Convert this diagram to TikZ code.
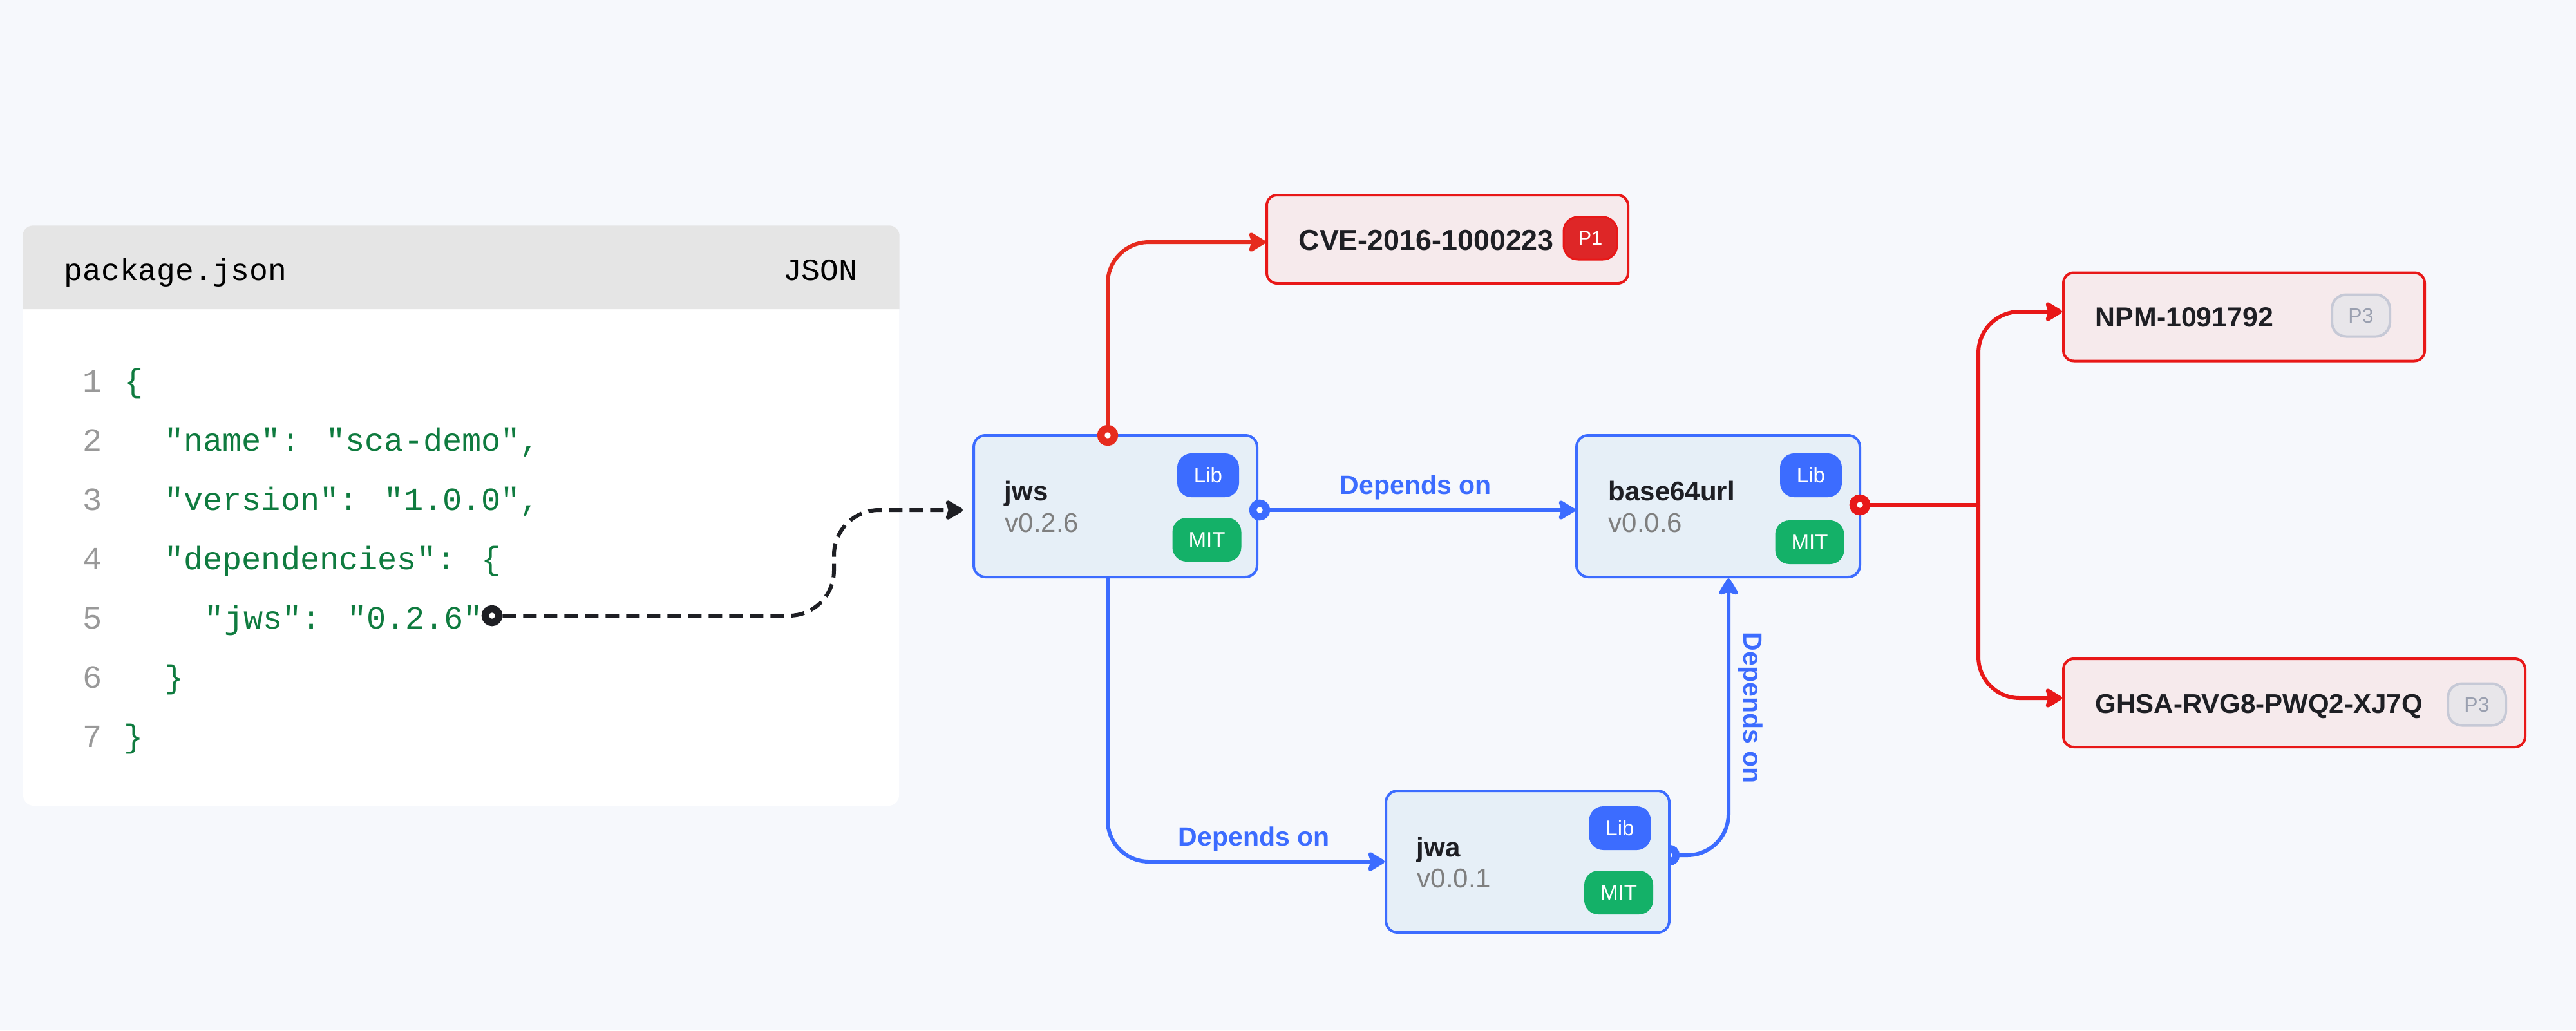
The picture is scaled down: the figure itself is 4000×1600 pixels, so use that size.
\documentclass[tikz,border=0pt]{standalone}
\usepackage{fontspec}
\setmainfont{Liberation Sans}
\newfontfamily\codefont{Liberation Mono}
\usetikzlibrary{arrows.meta}
\definecolor{pagebg}{HTML}{F6F8FC}
\definecolor{headbg}{HTML}{E5E5E5}
\definecolor{codegreen}{HTML}{0F7B3F}
\definecolor{numgray}{HTML}{999999}
\definecolor{inkdark}{HTML}{1E1F24}
\definecolor{vergray}{HTML}{7F7F7F}
\definecolor{depblue}{HTML}{3C6CFF}
\definecolor{pkgfill}{HTML}{E6EFF7}
\definecolor{vulnred}{HTML}{E81818}
\definecolor{toppred}{HTML}{E62B1E}
\definecolor{vulnfill}{HTML}{F6EAEC}
\definecolor{mitgreen}{HTML}{14B168}
\definecolor{pone}{HTML}{DE2627}
\definecolor{pthreefill}{HTML}{E8E6EA}
\definecolor{pthreeline}{HTML}{C6C9D6}
\definecolor{pthreetext}{HTML}{9AA0B0}
\tikzset{
	pkgbox/.style = {draw=depblue, fill=pkgfill, line width=.4mm, rounded corners=1.8mm, minimum width=44mm, minimum height=22mm, inner sep=0pt},
	vulnbox/.style = {draw=vulnred, fill=vulnfill, line width=.4mm, rounded corners=1.6mm, minimum height=13.7mm, inner sep=0pt},
	tagbox/.style = {rounded corners=2.2mm, minimum height=6.8mm, inner sep=0pt, text=white, font=\fontsize{9.4pt}{11pt}\selectfont},
	libtag/.style = {tagbox, fill=depblue, minimum width=9.6mm},
	mittag/.style = {tagbox, fill=mitgreen, minimum width=10.7mm},
	ponetag/.style = {tagbox, draw=vulnred, fill=pone, line width=.3mm, minimum width=8.3mm, minimum height=6.6mm, font=\fontsize{8.8pt}{11pt}\selectfont},
	pthreetag/.style = {tagbox, draw=pthreeline, fill=pthreefill, line width=.4mm, text=pthreetext, minimum width=9mm, minimum height=6.5mm, font=\fontsize{9.1pt}{11pt}\selectfont},
	pkgname/.style = {anchor=base west, inner sep=0pt, text=inkdark, font=\fontsize{11.95pt}{14pt}\selectfont\bfseries},
	pkgver/.style = {anchor=base west, inner sep=0pt, text=vergray, font=\fontsize{11.95pt}{14pt}\selectfont},
	vulnname/.style = {anchor=base west, inner sep=0pt, text=inkdark, font=\fontsize{12.2pt}{14pt}\selectfont\bfseries},
	deplabel/.style = {anchor=base west, inner sep=0pt, text=depblue, font=\fontsize{11.67pt}{14pt}\selectfont\bfseries},
	headtext/.style = {inner sep=0pt, text=black, font=\codefont\fontsize{13.66pt}{16pt}\selectfont},
	codetext/.style = {anchor=base west, inner sep=0pt, text=codegreen, font=\codefont\fontsize{14.3pt}{17pt}\selectfont},
	numtext/.style = {codetext, text=numgray},
	port/.style = {circle, fill=white, line width=1.15mm, minimum size=2.1mm, inner sep=0pt},
	depline/.style = {draw=depblue, line width=.6mm, rounded corners=6.4mm, -{Stealth[length=3mm,width=3.6mm,inset=.55mm,round]}},
	vulnline/.style = {draw=vulnred, line width=.6mm, rounded corners=6.4mm, -{Stealth[length=3mm,width=3.6mm,inset=.55mm,round]}},
}
\begin{document}
\begin{tikzpicture}[x=.1mm, y=-.1mm]
	\fill[pagebg] (0,0) rectangle (4000,1600);
	\useasboundingbox (0,0) rectangle (4000,1600);
	% manifest card
	\node[fill=white, rounded corners=1.6mm, minimum width=136mm, minimum height=90mm, inner sep=0pt] (card) at (716,801) {};
	\fill[headbg] (card.west |- 0,480) [rounded corners=1.6mm] -- (card.north west) -- (card.north east) [sharp corners] -- (card.east |- 0,480) -- cycle;
	\node[headtext, anchor=base west] (fileName) at (99,435) {package.json};
	\node[headtext, anchor=base east] (fileKind) at (1332,435) {JSON};
	\node[numtext] (n1) at (127.5,608) {1};
	\node[numtext] (n2) at (127.5,700) {2};
	\node[numtext] (n3) at (127.5,792) {3};
	\node[numtext] (n4) at (127.5,884) {4};
	\node[numtext] (n5) at (127.5,976) {5};
	\node[numtext] (n6) at (127.5,1068) {6};
	\node[numtext] (n7) at (127.5,1160) {7};
	\node[codetext] (c1) at (191.6,608) {\{};
	\node[codetext] (c2) at (254.4,700) {"name": "sca-demo",};
	\node[codetext] (c3) at (254.4,792) {"version": "1.0.0",};
	\node[codetext] (c4) at (254.4,884) {"dependencies": \{};
	\node[codetext] (c5) at (317.2,976) {"jws": "0.2.6"};
	\node[codetext] (c6) at (254.4,1068) {\}};
	\node[codetext] (c7) at (191.6,1160) {\}};
	% packages
	\node[pkgbox] (jws) at (1732,786) {};
	\node[pkgbox] (base) at (2668,786) {};
	\node[port, draw=depblue] (jwaOut) at (2592,1328) {};
	\node[pkgbox] (jwa) at (2372,1338) {};
	\node[pkgname] (jwsName) at (1559,777) {jws};
	\node[pkgver] (jwsVer) at (1560,826) {v0.2.6};
	\node[libtag] (jwsLib) at (1876,738) {Lib};
	\node[mittag] (jwsMit) at (1874,838) {MIT};
	\node[pkgname] (baseName) at (2497,777) {base64url};
	\node[pkgver] (baseVer) at (2497,826) {v0.0.6};
	\node[libtag] (baseLib) at (2812,738) {Lib};
	\node[mittag] (baseMit) at (2810,842) {MIT};
	\node[pkgname] (jwaName) at (2199,1330) {jwa};
	\node[pkgver] (jwaVer) at (2200,1378) {v0.0.1};
	\node[libtag] (jwaLib) at (2515.5,1286) {Lib};
	\node[mittag] (jwaMit) at (2513.5,1386) {MIT};
	% vulnerabilities
	\node[vulnbox, minimum width=56.1mm] (cve) at (2247.5,371.5) {};
	\node[vulnname, font=\fontsize{12.75pt}{14pt}\selectfont\bfseries] (cveName) at (2016,388) {CVE-2016-1000223};
	\node[ponetag] (cveTag) at (2469.5,370) {P1};
	\node[vulnbox, minimum width=56.1mm] (npm) at (3484.5,492) {};
	\node[vulnname] (npmName) at (3253,507) {NPM-1091792};
	\node[pthreetag] (npmTag) at (3666,490) {P3};
	\node[vulnbox, minimum width=71.7mm] (ghsa) at (3562.5,1091.5) {};
	\node[vulnname, font=\fontsize{11.95pt}{14pt}\selectfont\bfseries] (ghsaName) at (3253,1107) {GHSA-RVG8-PWQ2-XJ7Q};
	\node[pthreetag] (ghsaTag) at (3846,1094) {P3};
	% ports
	\node[port, draw=toppred] (jwsTop) at (1720,676) {};
	\node[port, draw=depblue] (jwsOut) at (1956,792) {};
	\node[port, draw=vulnred] (baseOut) at (2888,784) {};
	\node[port, draw=inkdark] (pinJws) at (764,956) {};
	\coordinate (fork) at (3072,784);
	\coordinate (jwsDown) at (1720,896);
	\coordinate (jwsIn) at (1495,792);
	% connectors
	\draw[line width=.6mm, draw=inkdark, dash pattern=on 2.1mm off 1.1mm, rounded corners=7mm, -{Stealth[length=3.1mm,width=3.6mm,inset=.55mm,round]}] (pinJws) -- (1295,956) -- (1295,792) -- (jwsIn);
	\draw[vulnline, draw=toppred] (jwsTop) |- ([yshift=-.45mm]cve.west);
	\draw[depline] (jwsOut) -- (jwsOut -| base.west);
	\draw[depline] (jwsDown) |- (jwa.west);
	\draw[depline] (jwaOut) -| ([xshift=1.6mm]base.south);
	\draw[draw=vulnred, line width=.6mm] (baseOut) -- (fork);
	\draw[vulnline] (fork) |- ([yshift=.8mm]npm.west);
	\draw[vulnline] (fork) |- ([yshift=.75mm]ghsa.west);
	% connector labels
	\node[deplabel] (dep1) at (2080,767) {Depends on};
	\node[deplabel] (dep2) at (1829,1313) {Depends on};
	\node[deplabel, rotate=-90] (dep3) at (2707,981) {Depends on};
\end{tikzpicture}
\end{document}
